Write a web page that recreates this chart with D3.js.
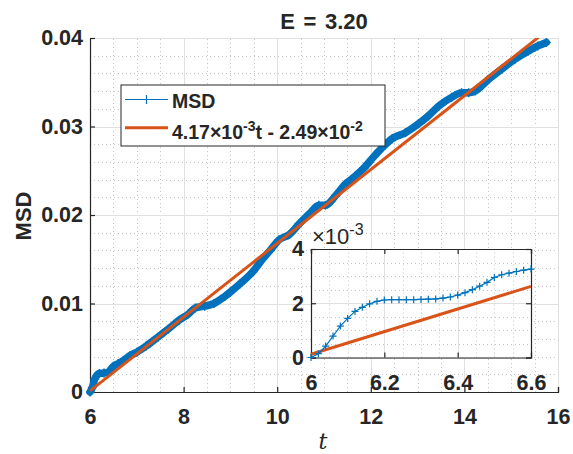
<!DOCTYPE html>
<html>
<head>
<meta charset="utf-8">
<script src="https://cdn.jsdelivr.net/npm/d3@7"></script>
<style>
  body { margin: 0; background: #fff; }
  svg text { font-family: "Liberation Sans", Arial, sans-serif; fill: #262626; }
</style>
</head>
<body>
<svg id="fig" width="573" height="454"></svg>
<script>
// MSD curve
const tMain = [6.00, 6.05, 6.10, 6.20, 6.30, 6.40, 6.50, 6.60, 6.70, 6.85, 7.00, 7.20, 7.45, 7.67,
  7.90, 8.10, 8.25, 8.45, 8.65, 8.88, 9.00, 9.20, 9.48, 9.70, 9.85, 10.04, 10.26, 10.47, 10.70,
  10.89, 11.03, 11.25, 11.46, 11.67, 11.85, 12.10, 12.30, 12.45, 12.74, 13.02, 13.23, 13.45,
  13.73, 13.94, 14.09, 14.23, 14.51, 14.80, 15.08, 15.36, 15.57, 15.75];
const msdMain = [0, 0.0005, 0.00145, 0.0021, 0.00215, 0.0023, 0.0029, 0.0032, 0.0035, 0.0041,
  0.0045, 0.0052, 0.0062, 0.0071, 0.0081, 0.0088, 0.0095, 0.0097, 0.0100, 0.0108, 0.0113,
  0.0122, 0.0136, 0.0151, 0.0160, 0.0172, 0.0178, 0.0190, 0.0202, 0.0211, 0.0211, 0.0222,
  0.0235, 0.0244, 0.0253, 0.0268, 0.0279, 0.0286, 0.0293, 0.0303, 0.0312, 0.0323, 0.0333,
  0.0338, 0.0338, 0.0340, 0.0353, 0.0365, 0.0376, 0.0385, 0.0391, 0.0395];

// start of the same curve, shown in the inset (msd in units of 1e-3)
const tInset = [6.00, 6.02, 6.04, 6.06, 6.08, 6.10, 6.12, 6.14, 6.16, 6.18, 6.20, 6.22, 6.24,
  6.26, 6.28, 6.30, 6.32, 6.34, 6.36, 6.38, 6.40, 6.42, 6.44, 6.46, 6.48, 6.50, 6.52, 6.54,
  6.56, 6.58, 6.60];
const msdInset = [0, 0.14, 0.42, 0.79, 1.16, 1.44, 1.70, 1.85, 1.98, 2.07, 2.12, 2.13, 2.13,
  2.13, 2.13, 2.14, 2.15, 2.16, 2.19, 2.23, 2.30, 2.39, 2.50, 2.63, 2.77, 2.95, 3.05, 3.11,
  3.17, 3.22, 3.26];

// linear fit: msd = fitSlope * t + fitIntercept
const fitSlope = 4.17e-3;
const fitIntercept = -2.49e-2;
const fitSpanMain = [6, 15.75];
const fitSpanInset = [6, 6.6];

const xTicksMain = [6, 8, 10, 12, 14, 16];
const yTicksMain = [0, 0.01, 0.02, 0.03, 0.04];
const xTicksInset = [6, 6.2, 6.4, 6.6];
const yTicksInset = [0, 2, 4];

const BLUE = '#0072BD';
const ORANGE = '#D95319';
const AXIS = '#262626';

const svg = d3.select('#fig');

const plus = (s) => `M${-s},0H${s}M0,${-s}V${s}`;

/**
 * Draw grid, axes and tick labels for one axes box.
 */
function drawFrame(g, x, y, opt) {
  const [x0, x1] = x.range();
  const [y0, y1] = y.range();
  g.append('rect')
    .attr('x', x0).attr('y', y1)
    .attr('width', x1 - x0).attr('height', y0 - y1)
    .attr('fill', '#fff');

  // minor grid (dotted)
  const minor = g.append('g')
    .attr('stroke', '#c4c4c4').attr('stroke-width', 1)
    .attr('stroke-dasharray', '1,3');
  minor.selectAll('.mx').data(d3.range(x.domain()[0], x.domain()[1] + 1e-9, opt.xMinor))
    .enter().append('line')
    .attr('x1', (d) => Math.round(x(d)) + 0.5).attr('x2', (d) => Math.round(x(d)) + 0.5)
    .attr('y1', y0).attr('y2', y1);
  minor.selectAll('.my').data(d3.range(y.domain()[0], y.domain()[1] + 1e-9, opt.yMinor))
    .enter().append('line')
    .attr('y1', (d) => Math.round(y(d)) + 0.5).attr('y2', (d) => Math.round(y(d)) + 0.5)
    .attr('x1', x0).attr('x2', x1);

  // major grid
  const major = g.append('g').attr('stroke', '#e0e0e0').attr('stroke-width', 1);
  major.selectAll('.gx').data(opt.xTicks).enter().append('line')
    .attr('x1', (d) => Math.round(x(d)) + 0.5).attr('x2', (d) => Math.round(x(d)) + 0.5)
    .attr('y1', y0).attr('y2', y1);
  major.selectAll('.gy').data(opt.yTicks).enter().append('line')
    .attr('y1', (d) => Math.round(y(d)) + 0.5).attr('y2', (d) => Math.round(y(d)) + 0.5)
    .attr('x1', x0).attr('x2', x1);

  const xAxis = d3.axisBottom(x).tickValues(opt.xTicks).tickSize(-5)
    .tickPadding(opt.xPad).tickFormat(opt.xFormat);
  const yAxis = d3.axisLeft(y).tickValues(opt.yTicks).tickSize(-5)
    .tickPadding(opt.yPad).tickFormat(opt.yFormat);
  const ax = g.append('g').attr('transform', `translate(0,${y0})`).call(xAxis);
  const ay = g.append('g').attr('transform', `translate(${x0},0)`).call(yAxis);
  [ax, ay].forEach((a) => {
    a.select('.domain').attr('stroke', AXIS).attr('stroke-width', 1.2);
    a.selectAll('.tick line').attr('stroke', AXIS).attr('stroke-width', 1.2);
    a.selectAll('.tick text')
      .attr('fill', AXIS)
      .style('font-family', '"Liberation Sans", Arial, sans-serif')
      .style('font-size', '21.5px').style('font-weight', 'bold');
  });
  if (opt.box) {
    const at = g.append('g').attr('transform', `translate(0,${y1})`)
      .call(d3.axisTop(x).tickValues(opt.xTicks).tickSize(-5).tickFormat(''));
    const ar = g.append('g').attr('transform', `translate(${x1},0)`)
      .call(d3.axisRight(y).tickValues(opt.yTicks).tickSize(-5).tickFormat(''));
    [at, ar].forEach((a) => {
      a.select('.domain').attr('stroke', AXIS).attr('stroke-width', 1.2);
      a.selectAll('.tick line').attr('stroke', AXIS).attr('stroke-width', 1.2);
    });
  }
}

// ---------- main axes ----------
const xMain = d3.scaleLinear().domain([6, 16]).range([90, 558]);
const yMain = d3.scaleLinear().domain([0, 0.04]).range([392, 38]);
const gMain = svg.append('g');
drawFrame(gMain, xMain, yMain, {
  xTicks: xTicksMain, yTicks: yTicksMain, xMinor: 0.5, yMinor: 0.002,
  xFormat: d3.format('d'), yFormat: (d) => (d === 0 ? '0' : d3.format('.2f')(d)),
  xPad: 17, yPad: 7, box: false,
});

svg.append('clipPath').attr('id', 'clipMain').append('rect')
  .attr('x', 86).attr('y', 38).attr('width', 476).attr('height', 360);

const mainPts = tMain.map((t, i) => [t, msdMain[i]]);
const plot = gMain.append('g').attr('clip-path', 'url(#clipMain)');
plot.append('path')
  .datum(mainPts)
  .attr('fill', 'none').attr('stroke', BLUE).attr('stroke-width', 7.5)
  .attr('stroke-linejoin', 'round').attr('stroke-linecap', 'round')
  .attr('d', d3.line().x((d) => xMain(d[0])).y((d) => yMain(d[1])).curve(d3.curveMonotoneX));
plot.selectAll('.m').data(mainPts).enter().append('path')
  .attr('transform', (d) => `translate(${xMain(d[0])},${yMain(d[1])})`)
  .attr('d', plus(4.5)).attr('stroke', BLUE).attr('stroke-width', 1.5).attr('fill', 'none');

const lineFit = (x, y, scale) => d3.line()
  .x((t) => x(t)).y((t) => y((fitSlope * t + fitIntercept) * scale));
plot.append('path')
  .datum(fitSpanMain)
  .attr('fill', 'none').attr('stroke', ORANGE).attr('stroke-width', 3)
  .attr('d', lineFit(xMain, yMain, 1));

// title and labels
svg.append('text').attr('x', 324).attr('y', 29.3).attr('text-anchor', 'middle')
  .style('font-size', '22px').style('font-weight', 'bold').style('word-spacing', '2.5px')
  .text('E = 3.20');
svg.append('text')
  .attr('transform', 'translate(31,216) rotate(-90)').attr('text-anchor', 'middle')
  .style('font-size', '22px').style('font-weight', 'bold').text('MSD');
svg.append('text').attr('x', 323).attr('y', 449).attr('text-anchor', 'middle')
  .style('font-family', '"DejaVu Serif", "Liberation Serif", serif')
  .style('font-style', 'italic').style('font-size', '22px').text('t');

// ---------- legend ----------
const leg = svg.append('g');
leg.append('rect')
  .attr('x', 121).attr('y', 85).attr('width', 264).attr('height', 61)
  .attr('fill', '#fff').attr('stroke', AXIS).attr('stroke-width', 1);
leg.append('line').attr('x1', 125).attr('x2', 168).attr('y1', 99.5).attr('y2', 99.5)
  .attr('stroke', BLUE).attr('stroke-width', 1.2);
leg.append('path').attr('transform', 'translate(146.5,99.5)').attr('d', plus(4.5))
  .attr('stroke', BLUE).attr('stroke-width', 1.2);
leg.append('line').attr('x1', 125).attr('x2', 168).attr('y1', 127.7).attr('y2', 127.7)
  .attr('stroke', ORANGE).attr('stroke-width', 3);
leg.append('text').attr('x', 172).attr('y', 108.3)
  .style('font-size', '19.5px').style('font-weight', 'bold').text('MSD');
const fitText = leg.append('text').attr('x', 172).attr('y', 138.5)
  .style('font-size', '19.5px').style('font-weight', 'bold');
fitText.append('tspan').text('4.17\u00d710');
fitText.append('tspan').attr('dy', -8).style('font-size', '14px').text('-3');
fitText.append('tspan').attr('dy', 8).text('t - 2.49\u00d710');
fitText.append('tspan').attr('dy', -8).style('font-size', '14px').text('-2');

// ---------- inset ----------
const xIn = d3.scaleLinear().domain([6, 6.6]).range([311, 531]);
const yIn = d3.scaleLinear().domain([0, 4]).range([357.5, 249]);
const gIn = svg.append('g');
drawFrame(gIn, xIn, yIn, {
  xTicks: xTicksInset, yTicks: yTicksInset, xMinor: 0.05, yMinor: 0.5,
  xFormat: d3.format('~g'), yFormat: d3.format('d'),
  xPad: 17, yPad: 7, box: true,
});
const inPts = tInset.map((t, i) => [t, msdInset[i]]);
gIn.append('path')
  .datum(fitSpanInset)
  .attr('fill', 'none').attr('stroke', ORANGE).attr('stroke-width', 3)
  .attr('d', lineFit(xIn, yIn, 1e3));
gIn.append('path')
  .datum(inPts)
  .attr('fill', 'none').attr('stroke', BLUE).attr('stroke-width', 1.2)
  .attr('d', d3.line().x((d) => xIn(d[0])).y((d) => yIn(d[1])));
gIn.selectAll('.m').data(inPts).enter().append('path')
  .attr('transform', (d) => `translate(${xIn(d[0])},${yIn(d[1])})`)
  .attr('d', plus(3.5)).attr('stroke', BLUE).attr('stroke-width', 1.2).attr('fill', 'none');

const expo = svg.append('text').attr('x', 312).attr('y', 243.5)
  .style('font-size', '22px');
expo.append('tspan').text('\u00d710');
expo.append('tspan').attr('dy', -9).style('font-size', '16px').text('-3');
</script>
</body>
</html>
